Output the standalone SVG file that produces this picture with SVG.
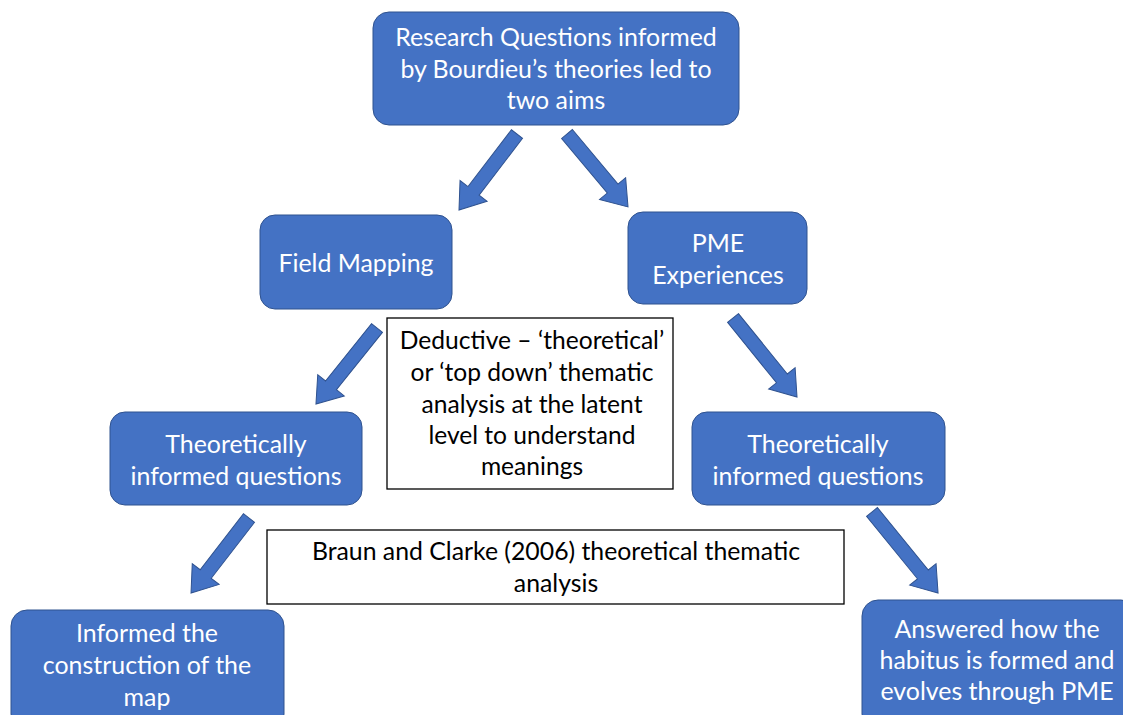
<svg xmlns="http://www.w3.org/2000/svg" width="1123" height="715" viewBox="0 0 1123 715">
<style>
.box{fill:#4472C4;stroke:#2F528F;stroke-width:1}
.wbox{fill:#FFFFFF;stroke:#000000;stroke-width:1.3}
.arr{fill:#4472C4;stroke:#2F528F;stroke-width:1}
.t{font-family:Lato,"Open Sans","Liberation Sans",sans-serif;font-size:24.9px;fill:#FFFFFF;text-anchor:middle}
.k{font-family:Lato,"Open Sans","Liberation Sans",sans-serif;font-size:24.6px;fill:#000000;text-anchor:middle}
.k2{font-family:Lato,"Open Sans","Liberation Sans",sans-serif;font-size:24.8px;fill:#000000;text-anchor:middle}
</style>
<rect width="1123" height="715" fill="#FFFFFF"/>
<g id="connectors">
<path class="arr" transform="translate(517,134) rotate(127.35)" d="M0,-7 L71.6,-7 L71.6,-17 L95.6,0 L71.6,17 L71.6,7 L0,7 Z"/>
<path class="arr" transform="translate(567,134) rotate(50.1)" d="M0,-7 L71.1,-7 L71.1,-17 L95.1,0 L71.1,17 L71.1,7 L0,7 Z"/>
<path class="arr" transform="translate(377,328) rotate(128.75)" d="M0,-7 L73.5,-7 L73.5,-17 L97.5,0 L73.5,17 L73.5,7 L0,7 Z"/>
<path class="arr" transform="translate(733,318) rotate(51)" d="M0,-7 L77.7,-7 L77.7,-17 L101.7,0 L77.7,17 L77.7,7 L0,7 Z"/>
<path class="arr" transform="translate(249,518) rotate(127.7)" d="M0,-7 L70.8,-7 L70.8,-17 L94.8,0 L70.8,17 L70.8,7 L0,7 Z"/>
<path class="arr" transform="translate(872,512) rotate(50.8)" d="M0,-7 L80.5,-7 L80.5,-17 L104.5,0 L80.5,17 L80.5,7 L0,7 Z"/>
</g>
<g id="research">
<rect class="box" x="373" y="12" width="366" height="113" rx="16"/>
<text class="t" x="556" y="46">Research Questions informed</text>
<text class="t" x="556" y="78">by Bourdieu’s theories led to</text>
<text class="t" x="556" y="109">two aims</text>
</g>
<g id="field">
<rect class="box" x="260" y="215" width="192" height="94" rx="15"/>
<text class="t" x="356" y="272">Field Mapping</text>
</g>
<g id="pme">
<rect class="box" x="628" y="212" width="179" height="92" rx="15"/>
<text class="t" x="718" y="252">PME</text>
<text class="t" x="718" y="284">Experiences</text>
</g>
<g id="deductive">
<rect class="wbox" x="387" y="318" width="286" height="171"/>
<text class="k" x="532" y="349">Deductive – ‘theoretical’</text>
<text class="k" x="532" y="381">or ‘top down’ thematic</text>
<text class="k" x="532" y="413">analysis at the latent</text>
<text class="k" x="532" y="444">level to understand</text>
<text class="k" x="532" y="475">meanings</text>
</g>
<g id="theo-left">
<rect class="box" x="110" y="412" width="252" height="93" rx="15"/>
<text class="t" x="236" y="453">Theoretically</text>
<text class="t" x="236" y="485">informed questions</text>
</g>
<g id="theo-right">
<rect class="box" x="692" y="412" width="253" height="93" rx="15"/>
<text class="t" x="818" y="453">Theoretically</text>
<text class="t" x="818" y="485">informed questions</text>
</g>
<g id="braun">
<rect class="wbox" x="267" y="530" width="577" height="74"/>
<text class="k2" x="556" y="560">Braun and Clarke (2006) theoretical thematic</text>
<text class="k2" x="556" y="592">analysis</text>
</g>
<g id="informed">
<rect class="box" x="11" y="610" width="273" height="120" rx="16"/>
<text class="t" x="147" y="642">Informed the</text>
<text class="t" x="147" y="674">construction of the</text>
<text class="t" x="147" y="706">map</text>
</g>
<g id="answered">
<rect class="box" x="862" y="600" width="275" height="130" rx="16"/>
<text class="t" x="997" y="638">Answered how the</text>
<text class="t" x="997" y="669">habitus is formed and</text>
<text class="t" x="997" y="700">evolves through PME</text>
</g>
</svg>
